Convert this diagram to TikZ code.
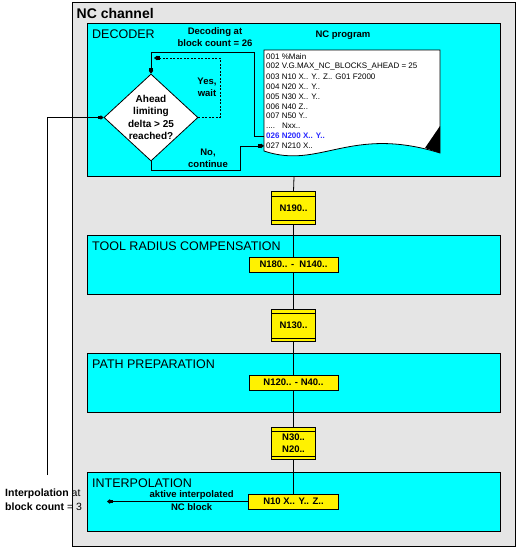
\documentclass[tikz,border=0pt]{standalone}
\usepackage{fontspec}
\setmainfont{Liberation Sans}
\usetikzlibrary{arrows.meta,shapes.geometric,calc}
\definecolor{channelgrey}{RGB}{229,229,229}
\definecolor{stagecyan}{RGB}{0,255,255}
\definecolor{blockblue}{RGB}{40,40,255}
\tikzstyle{stage}=[draw,fill=stagecyan,line width=1pt,anchor=north west,inner sep=0pt]
\tikzstyle{stagetitle}=[anchor=base west,inner sep=0pt,font=\fontsize{12.5}{15}\selectfont]
\tikzstyle{buffer}=[draw,fill=yellow,line width=0.8pt,minimum width=44pt,minimum height=32.5pt,inner sep=0pt,align=center,font=\fontsize{9.5}{12}\selectfont\bfseries]
\tikzstyle{block}=[draw,fill=yellow,line width=0.8pt,minimum height=15pt,inner sep=0pt,font=\fontsize{9.5}{12}\selectfont\bfseries]
\tikzstyle{progline}=[anchor=west,inner xsep=2pt,inner ysep=0pt,font=\fontsize{8}{9}\selectfont]
\tikzstyle{remark}=[inner sep=0pt,align=center,font=\fontsize{9.5}{12}\selectfont\bfseries]
\tikzstyle{wire}=[draw,line width=0.8pt]
\tikzstyle{flow}=[draw,line width=0.8pt,-{Rectangle[length=3pt,width=3.5pt]Triangle[length=3pt,width=4.5pt]}]

\begin{document}
\begin{tikzpicture}[x=1pt,y=-1pt]
\useasboundingbox (0,0) rectangle (516,547);

\node[draw,fill=channelgrey,line width=1pt,anchor=north west,minimum width=443pt,minimum height=544pt,inner sep=0pt] (channel) at (72,2) {};
\node[anchor=base west,inner sep=0pt,font=\fontsize{14}{16}\selectfont\bfseries] (channeltitle) at ($(channel.north west)+(4.5,16.5)$) {NC channel};

% stages of the channel
\foreach \pos/\h/\name/\title in {{(87,23)/153/decoder/DECODER},{(87,235)/59/trc/TOOL RADIUS COMPENSATION},{(87,353)/59/prep/PATH PREPARATION},{(87,472)/59/ipo/INTERPOLATION}}
{
    \node[stage,minimum width=413pt,minimum height=\h pt] (\name) at \pos {};
    \node[stagetitle] (\name-title) at ($(\name.north west)+(5,15.5)$) {\title};
}

% NC program sheet
\path[draw,fill=white,line width=0.8pt] (264,50) -- (440,50) -- (440,153) .. controls (350,125) and (320,170) .. (264,151) -- cycle;
\fill (425,148) -- (440,126) -- (440,153) -- cycle;
\foreach \y/\name/\txt in {56.8/l001/{001 \%Main},66.7/l002/{002 V.G.MAX\_NC\_BLOCKS\_AHEAD = 25},76.6/l003/{003 N10 X.. Y.. Z.. G01 F2000},86.5/l004/{004 N20 X.. Y..},96.4/l005/{005 N30 X.. Y..},106.3/l006/{006 N40 Z..},116.2/l007/{007 N50 Y..},126.1/lnxx/{....\hspace{7pt}Nxx..},136/l026/{\color{blockblue}\bfseries 026 N200 X.. Y..},145.9/l027/{027 N210 X..}}
    \node[progline] (\name) at (264,\y) {\txt};

\node[remark] (progtitle) at (343,35) {NC program};
\node[remark] (decodelabel) at (215,37) {Decoding at\\block count = 26};

\node[draw,fill=white,diamond,line width=0.8pt,minimum width=94pt,minimum height=87pt,inner sep=0pt] (ahead) at (151,117.5) {};
\node[remark,font=\fontsize{10}{12.3}\selectfont\bfseries] (aheadtext) at (ahead.center) {Ahead\\limiting\\delta > 25\\reached?};
\node[remark] (yeswait) at (207,87.5) {Yes,\\wait};
\node[remark] (nocont) at (208,158) {No,\\continue};

\coordinate (decodeturn) at (254,52);
\coordinate (waitturn) at (220,58);
\coordinate (waitend) at (154,58);
\coordinate (contturn) at (240,170);
\coordinate (ipofoot) at (47,475);
\coordinate (ipoend) at (107,501.5);

\draw[flow] (l026.west) -| (decodeturn) -| (ahead.north);
\draw[flow,dash pattern=on 2pt off 1.5pt] (ahead.east) -| (waitturn) -- (waitend);
\draw[flow] (ahead.south) |- (contturn) |- (l027.west);
\draw[flow] (ipofoot) |- (ahead.west);

% blocks passed down the channel
\foreach \pos/\name/\txt in {{(293.5,208)/n190/N190..},{(293.5,325.5)/n130/N130..},{(293.5,443.5)/n30/{N30..\\N20..}}}
{
    \node[buffer] (\name) at \pos {\txt};
    \draw[wire] ($(\name.north west)+(0,5)$) -- ($(\name.north east)+(0,5)$);
    \draw[wire] ($(\name.south west)+(0,-4)$) -- ($(\name.south east)+(0,-4)$);
}
\node[block,minimum width=89pt] (trcblock) at (293.5,264.5) {N180.. -\ \ N140..};
\node[block,minimum width=89pt] (prepblock) at (293.5,382.5) {N120.. - N40..};
\node[block,minimum width=90pt] (ipoblock) at (293.5,501.5) {N10 X.. Y.. Z..};

\foreach \source/\dest in {decoder/n190,n190/trcblock,trcblock/n130,n130/prepblock,prepblock/n30,n30/ipoblock}
    \path[wire] (\source.south) -- (\dest.north);

\draw[flow] (ipoblock.west) -- node[remark,above=1.5pt,pos=0.4] {aktive interpolated} node[remark,below=1.5pt,pos=0.4] {NC block} (ipoend);
\node[remark,anchor=west,align=left,font=\fontsize{10.5}{14}\selectfont] (ipolabel) at (5,500) {\textbf{Interpolation} at\\\textbf{block count} = 3};

\end{tikzpicture}
\end{document}
